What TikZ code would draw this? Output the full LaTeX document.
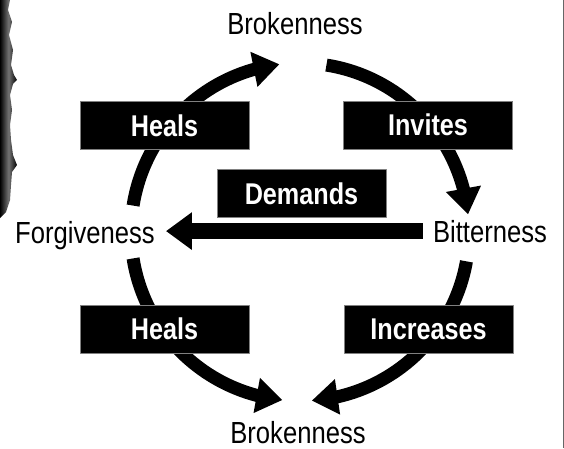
\documentclass[tikz,border=0pt]{standalone}
\usepackage{fontspec}
\setmainfont{Liberation Sans}[FakeStretch=0.84]
\usetikzlibrary{arrows.meta,bending}
\begin{document}
\begin{tikzpicture}[x=1pt,y=1pt,line join=round,font=\fontsize{30.5}{32}\selectfont,
	cyc/.style={line width=13pt,-{Triangle[length=26pt,width=34pt]}},
	word/.style={inner sep=0pt,anchor=base},
	tag/.style={fill=black,draw=black!50,line width=0.8pt,text=white,inner sep=0pt,
		minimum width=169pt,minimum height=48pt,font=\fontsize{30}{32}\selectfont\bfseries}]
	\useasboundingbox (0,0) rectangle (564,448);
	\def\r{169}
	\path 
	(300,216) coordinate (O)
	(O) ++(171:\r) coordinate (a)
	(O) ++(81:\r) coordinate (b)
	(O) ++(-10:\r) coordinate (c)
	(O) ++(189:\r) coordinate (d)
	;
	% torn edge
	\shade[left color=black,right color=black,middle color=black!55]
	plot coordinates {(0,448) (10,448) (8,438) (12,426) (9,413) (13,398) (11,383) (14,373)
		(17,368) (13,364) (10,353) (12,338) (10,323) (11,308) (13,293) (17,283) (12,276)
		(11,263) (10,248) (6,236) (0,230)} -- cycle;
	\draw[black!60,line width=1pt] (563,0) -- (563,448);
	% the four arcs
	\draw[cyc] (a) arc[start angle=171,end angle=97,radius=\r];
	\draw[cyc] (b) arc[start angle=81,end angle=6,radius=\r];
	\draw[cyc] (c) arc[start angle=-10,end angle=-86,radius=\r];
	\draw[cyc] (d) arc[start angle=189,end angle=264,radius=\r];
	% words on the circle
	\node[word] (top) at (295,413) {Brokenness};
	\node[word] (bot) at (298,5) {Brokenness};
	\node[word] (forg) at (85,205) {Forgiveness};
	\node[word] (bitt) at (490,206) {Bitterness};
	\draw[line width=16pt,-{Triangle[length=26pt,width=36pt]},shorten <=10pt,shorten >=11pt]
	(bitt.west) -- (bitt.west -| forg.east);
	% black tags
	\foreach \n/\x/\y/\t in {hl/164.5/322.5/Heals,inv/428/323/Invites,dem/301.5/254.5/Demands,
		hr/164.5/119/Heals,inc/428.5/119/Increases}
	\node[tag] (\n) at (\x,\y) {\t};
\end{tikzpicture}
\end{document}
